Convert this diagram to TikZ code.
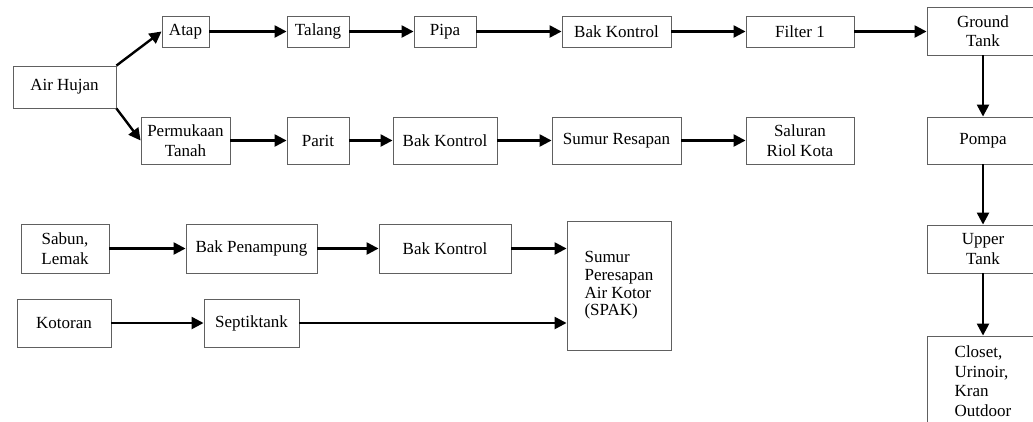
\documentclass[tikz,border=0pt]{standalone}
\usepackage{fontspec}
\setmainfont{Liberation Serif}
\usepackage{tikz}
\usetikzlibrary{positioning,arrows.meta,calc}

\begin{document}
\begin{tikzpicture}[
    x=1pt, y=-1pt,
    box/.style={draw=gray!75!black, line width=0.9pt, inner sep=2pt,
                font=\fontsize{17}{19.5}\selectfont, align=center},
    arr/.style={-{Triangle[length=12pt,width=12pt]}, line width=2.4pt}
]
  \useasboundingbox (0,0) rectangle (1033,421);
  \clip (0,0) rectangle (1033,421);
  % air hujan
  \node[box, minimum width=103pt, minimum height=42pt] (hujan) at (64.5,87) {Air Hujan};
  \node[box, minimum width=47pt,  minimum height=31pt] (atap)    at (185.5,31.5) {Atap};
  \node[box, minimum width=62pt,  minimum height=31pt] (talang)  at (318,31.5)   {Talang};
  \node[box, minimum width=62pt,  minimum height=31pt] (pipa)    at (445,31.5)   {Pipa};
  \node[box, minimum width=109pt, minimum height=31pt] (bakA)    at (616.5,31.5) {Bak Kontrol};
  \node[box, minimum width=108pt, minimum height=31pt] (filter)  at (800,31.5)   {Filter 1};
  \node[box, minimum width=89pt,  minimum height=47pt] (tanah)   at (185.5,140.5) {Permukaan\\Tanah};
  \node[box, minimum width=62pt,  minimum height=47pt] (parit)   at (318,140.5)   {Parit};
  \node[box, minimum width=104pt, minimum height=47pt] (bakB)    at (445,140.5)   {Bak Kontrol};
  \node[box, minimum width=129pt, minimum height=47pt] (resapan) at (616.5,140.5) {Sumur Resapan};
  \node[box, minimum width=108pt, minimum height=47pt] (riol)    at (800,140.5)   {Saluran\\Riol Kota};
  % tangki
  \node[box, minimum width=112pt, minimum height=48pt] (ground) at (983,31)    {Ground\\Tank};
  \node[box, minimum width=112pt, minimum height=47pt] (pompa)  at (983,140.5) {Pompa};
  \node[box, minimum width=112pt, minimum height=48pt] (upper)  at (983,249)   {Upper\\Tank};
  \node[box, minimum width=112pt, minimum height=90pt, align=left] (closet) at (983,381)
       {Closet,\\Urinoir,\\Kran\\Outdoor};
  % air kotor
  \node[box, minimum width=88pt,  minimum height=49pt] (sabun)     at (65,248.5)    {Sabun,\\Lemak};
  \node[box, minimum width=131pt, minimum height=49pt] (penampung) at (251.5,248.5) {Bak Penampung};
  \node[box, minimum width=132pt, minimum height=49pt] (bakC)      at (445,248.5)   {Bak Kontrol};
  \node[box, minimum width=94pt,  minimum height=48pt] (kotoran)   at (64,323)      {Kotoran};
  \node[box, minimum width=95pt,  minimum height=48pt] (septik)    at (251.5,323)   {Septiktank};
  \node[box, minimum width=104pt, minimum height=129pt, align=left,
        font=\fontsize{17}{17.7}\selectfont] (spak) at (619,285.5)
       {Sumur\\Peresapan\\Air Kotor\\(SPAK)};

  \draw[arr] (hujan.north east) -- (atap.west);
  \draw[arr] (hujan.south east) -- (tanah.west);
  \draw[arr] (atap) -- (talang);
  \draw[arr] (talang) -- (pipa);
  \draw[arr] (pipa) -- (bakA);
  \draw[arr] (bakA) -- (filter);
  \draw[arr] (filter) -- (filter -| ground.west);
  \draw[arr] (tanah) -- (parit);
  \draw[arr] (parit) -- (bakB);
  \draw[arr] (bakB) -- (resapan);
  \draw[arr] (resapan) -- (riol);
  \draw[arr] (ground) -- (pompa);
  \draw[arr] (pompa) -- (upper);
  \draw[arr] (upper) -- (closet);
  \draw[arr] (sabun) -- (penampung);
  \draw[arr] (penampung) -- (bakC);
  \draw[arr] (bakC) -- (bakC -| spak.west);
  \draw[arr] (kotoran) -- (septik);
  \draw[arr] (septik) -- (septik -| spak.west);
\end{tikzpicture}
\end{document}
